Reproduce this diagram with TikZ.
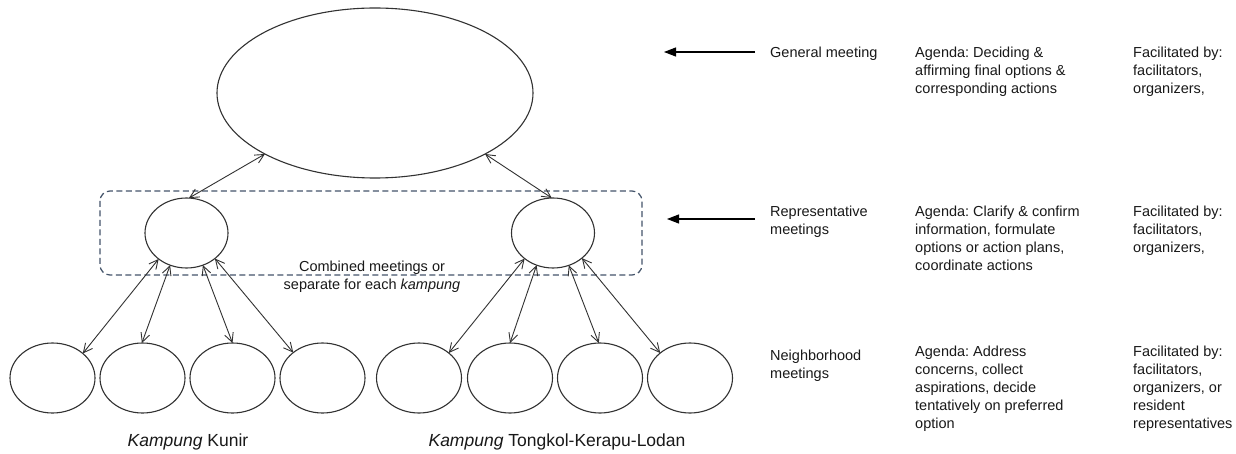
\documentclass[tikz,border=0pt]{standalone}
\usepackage{fontspec}
\setmainfont{Liberation Sans}
\usetikzlibrary{arrows.meta,shapes.geometric}
\definecolor{lineg}{RGB}{50,50,50}
\definecolor{dashb}{RGB}{68,84,106}
\definecolor{txt}{RGB}{25,25,25}
\tikzset{
  meet/.style={ellipse, draw=lineg, line width=1.1pt, inner sep=0pt, outer sep=0pt},
  bigmeet/.style={meet, minimum width=316pt, minimum height=170pt},
  repmeet/.style={meet, minimum width=83pt, minimum height=70pt},
  nbmeet/.style={meet, minimum width=85pt, minimum height=70pt},
  link/.style={draw=lineg, line width=0.9pt, {Straight Barb[length=9pt,width=9pt]}-{Straight Barb[length=9pt,width=9pt]}},
  pointer/.style={draw=black, line width=1.1pt, -{Triangle[length=12pt,width=9pt]}},
  label/.style={anchor=north west, inner sep=0pt, align=left, text=txt, font=\fontsize{14.5}{18}\selectfont},
  combo/.style={anchor=north, inner sep=0pt, align=center, text=txt, font=\fontsize{14.5}{18}\selectfont},
  kamp/.style={anchor=base, inner sep=0pt, text=txt, font=\fontsize{17.5}{21}\selectfont},
  groupbox/.style={draw=dashb, line width=1.2pt, dash pattern=on 6pt off 3.5pt, rounded corners=10pt}
}
\begin{document}
\frenchspacing
\begin{tikzpicture}[x=1pt,y=-1pt]
\useasboundingbox[fill=white] (0,0) rectangle (1236,454);

% group box
\draw[groupbox] (100,191) rectangle (642,275);

% meetings
\node[bigmeet] (gen) at (375,93) {};
\node[repmeet] (repL) at (186.5,233) {};
\node[repmeet] (repR) at (553,233) {};
\node[nbmeet] (n1) at (52.5,378) {};
\node[nbmeet] (n2) at (142.5,378) {};
\node[nbmeet] (n3) at (232.5,378) {};
\node[nbmeet] (n4) at (322.5,378) {};
\node[nbmeet] (n5) at (419,378) {};
\node[nbmeet] (n6) at (510,378) {};
\node[nbmeet] (n7) at (600,378) {};
\node[nbmeet] (n8) at (690,378) {};

% connectors
\draw[link] (gen.209) -- (repL.86);
\draw[link] (gen.331) -- (repR.92);
\draw[link] (repL.223) -- (n1.39);
\draw[link] (repL.243) -- (n2.91);
\draw[link] (repL.297) -- (n3.90);
\draw[link] (repL.318) -- (n4.139);
\draw[link] (repR.222) -- (n5.40);
\draw[link] (repR.243) -- (n6.90);
\draw[link] (repR.296) -- (n7.92);
\draw[link] (repR.319) -- (n8.140);

% texts in diagram
\node[combo] (combined) at (372,261) {Combined meetings or\\separate for each \textit{kampung}};
\node[kamp] (kunir) at (188,446) {\textit{Kampung} Kunir};
\node[kamp] (tongkol) at (557,446) {\textit{Kampung} Tongkol-Kerapu-Lodan};

% pointers
\coordinate (p1tail) at (755,52);
\coordinate (p1tip) at (664,52);
\coordinate (p2tail) at (755,219);
\coordinate (p2tip) at (667,219);
\draw[pointer] (p1tail) -- (p1tip);
\draw[pointer] (p2tail) -- (p2tip);

% right column texts
\node[label] (l1) at (770,46.5) {General meeting};
\node[label] (a1) at (915,46.5) {Agenda: Deciding \&\\affirming final options \&\\corresponding actions};
\node[label] (f1) at (1133,46.5) {Facilitated by:\\facilitators,\\organizers,};

\node[label] (l2) at (770,205.5) {Representative\\meetings};
\node[label] (a2) at (915,205.5) {Agenda: Clarify \& confirm\\information, formulate\\options or action plans,\\coordinate actions};
\node[label] (f2) at (1133,205.5) {Facilitated by:\\facilitators,\\organizers,};

\node[label] (l3) at (770,349.5) {Neighborhood\\meetings};
\node[label] (a3) at (915,345.5) {Agenda: Address\\concerns, collect\\aspirations, decide\\tentatively on preferred\\option};
\node[label] (f3) at (1133,345.5) {Facilitated by:\\facilitators,\\organizers, or\\resident\\representatives};
\end{tikzpicture}
\end{document}
